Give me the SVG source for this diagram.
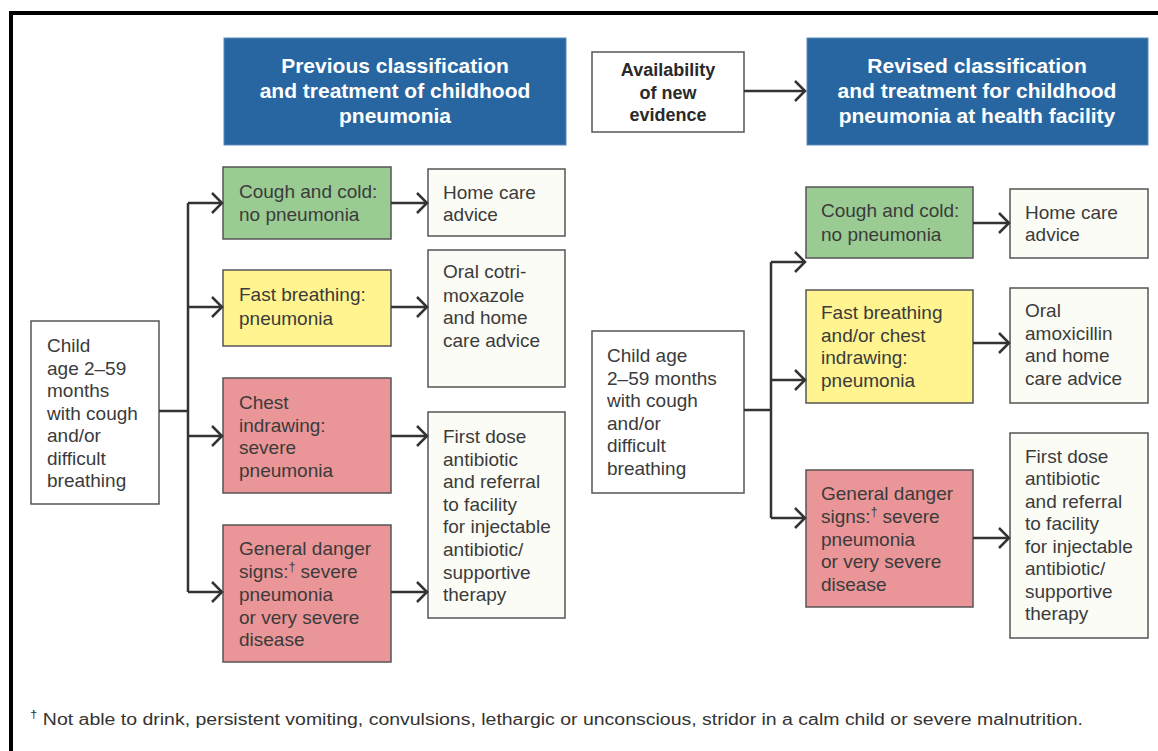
<svg xmlns="http://www.w3.org/2000/svg" width="1158" height="751" viewBox="0 0 1158 751">
<defs>
<style>
.t{font-family:"Liberation Sans",Arial,sans-serif;font-size:19px;fill:#3b3b3b}
.h{font-family:"Liberation Sans",Arial,sans-serif;font-size:21px;font-weight:bold;fill:#ffffff;text-anchor:middle}
.hb{font-family:"Liberation Sans",Arial,sans-serif;font-size:18px;font-weight:bold;fill:#2a2a2a;text-anchor:middle}
.blue{fill:#2866a1;stroke:#5a8bbd;stroke-width:1}
.wb{fill:#ffffff;stroke:#555;stroke-width:1.5}
.lb{fill:#fbfcf6;stroke:#555;stroke-width:1.5}
.gr{fill:#9acb93;stroke:#555;stroke-width:1.5}
.ye{fill:#fff490;stroke:#555;stroke-width:1.5}
.rd{fill:#ea9597;stroke:#555;stroke-width:1.5}
.c{fill:none;stroke:#333;stroke-width:2.5}
.fn{font-family:"Liberation Sans",Arial,sans-serif;font-size:16px;fill:#333}
</style>
<marker id="ah" markerUnits="userSpaceOnUse" markerWidth="14" markerHeight="24" refX="11" refY="12" orient="auto">
<path d="M1,2 L11,12 L1,22" fill="none" stroke="#333" stroke-width="2.5"/>
</marker>
</defs>
<rect width="1158" height="751" fill="#ffffff"/>
<path d="M11,760 L11,13 L1170,13" fill="none" stroke="#000" stroke-width="4"/>

<g id="hdr-prev">
<rect class="blue" x="224" y="38" width="342" height="107"/>
<text class="h" x="395" y="73">Previous classification</text>
<text class="h" x="395" y="98">and treatment of childhood</text>
<text class="h" x="395" y="123">pneumonia</text>
</g>
<g id="evidence">
<rect class="wb" x="592" y="52" width="152" height="80"/>
<text class="hb" x="668" y="76">Availability</text>
<text class="hb" x="668" y="99">of new</text>
<text class="hb" x="668" y="121">evidence</text>
</g>
<g id="hdr-rev">
<rect class="blue" x="807" y="38" width="341" height="107"/>
<text class="h" x="977" y="73">Revised classification</text>
<text class="h" x="977" y="98">and treatment for childhood</text>
<text class="h" x="977" y="123">pneumonia at health facility</text>
</g>

<g id="l-child">
<rect class="wb" x="31" y="321" width="128" height="183"/>
<text class="t" x="47" y="352">Child</text>
<text class="t" x="47" y="375">age 2–59</text>
<text class="t" x="47" y="397">months</text>
<text class="t" x="47" y="420">with cough</text>
<text class="t" x="47" y="442">and/or</text>
<text class="t" x="47" y="465">difficult</text>
<text class="t" x="47" y="487">breathing</text>
</g>
<g id="l-cough">
<rect class="gr" x="223" y="167" width="168" height="72"/>
<text class="t" x="239" y="198">Cough and cold:</text>
<text class="t" x="239" y="221">no pneumonia</text>
</g>
<g id="l-home">
<rect class="lb" x="428" y="169" width="137" height="67"/>
<text class="t" x="443" y="199">Home care</text>
<text class="t" x="443" y="221">advice</text>
</g>
<g id="l-fast">
<rect class="ye" x="223" y="270" width="168" height="76"/>
<text class="t" x="239" y="301">Fast breathing:</text>
<text class="t" x="239" y="325">pneumonia</text>
</g>
<g id="l-oral">
<rect class="lb" x="428" y="250" width="137" height="137"/>
<text class="t" x="443" y="278">Oral cotri-</text>
<text class="t" x="443" y="302">moxazole</text>
<text class="t" x="443" y="324">and home</text>
<text class="t" x="443" y="347">care advice</text>
</g>
<g id="l-chest">
<rect class="rd" x="223" y="378" width="168" height="115"/>
<text class="t" x="239" y="409">Chest</text>
<text class="t" x="239" y="432">indrawing:</text>
<text class="t" x="239" y="454">severe</text>
<text class="t" x="239" y="477">pneumonia</text>
</g>
<g id="l-danger">
<rect class="rd" x="223" y="525" width="168" height="137"/>
<text class="t" x="239" y="555">General danger</text>
<text class="t" x="239" y="578">signs:<tspan font-size="12" dy="-7">†</tspan><tspan dy="7"> severe</tspan></text>
<text class="t" x="239" y="601">pneumonia</text>
<text class="t" x="239" y="624">or very severe</text>
<text class="t" x="239" y="646">disease</text>
</g>
<g id="l-first">
<rect class="lb" x="428" y="412" width="137" height="206"/>
<text class="t" x="443" y="443">First dose</text>
<text class="t" x="443" y="466">antibiotic</text>
<text class="t" x="443" y="488">and referral</text>
<text class="t" x="443" y="511">to facility</text>
<text class="t" x="443" y="533">for injectable</text>
<text class="t" x="443" y="556">antibiotic/</text>
<text class="t" x="443" y="579">supportive</text>
<text class="t" x="443" y="601">therapy</text>
</g>

<g id="r-child">
<rect class="wb" x="592" y="331" width="152" height="162"/>
<text class="t" x="607" y="362">Child age</text>
<text class="t" x="607" y="385">2–59 months</text>
<text class="t" x="607" y="407">with cough</text>
<text class="t" x="607" y="430">and/or</text>
<text class="t" x="607" y="452">difficult</text>
<text class="t" x="607" y="475">breathing</text>
</g>
<g id="r-cough">
<rect class="gr" x="806" y="187" width="167" height="71"/>
<text class="t" x="821" y="217">Cough and cold:</text>
<text class="t" x="821" y="241">no pneumonia</text>
</g>
<g id="r-home">
<rect class="lb" x="1010" y="189" width="138" height="69"/>
<text class="t" x="1025" y="219">Home care</text>
<text class="t" x="1025" y="241">advice</text>
</g>
<g id="r-fast">
<rect class="ye" x="806" y="290" width="167" height="113"/>
<text class="t" x="821" y="319">Fast breathing</text>
<text class="t" x="821" y="342">and/or chest</text>
<text class="t" x="821" y="364">indrawing:</text>
<text class="t" x="821" y="387">pneumonia</text>
</g>
<g id="r-oral">
<rect class="lb" x="1010" y="288" width="138" height="115"/>
<text class="t" x="1025" y="317">Oral</text>
<text class="t" x="1025" y="340">amoxicillin</text>
<text class="t" x="1025" y="362">and home</text>
<text class="t" x="1025" y="385">care advice</text>
</g>
<g id="r-danger">
<rect class="rd" x="806" y="470" width="167" height="137"/>
<text class="t" x="821" y="500">General danger</text>
<text class="t" x="821" y="523">signs:<tspan font-size="12" dy="-7">†</tspan><tspan dy="7"> severe</tspan></text>
<text class="t" x="821" y="546">pneumonia</text>
<text class="t" x="821" y="568">or very severe</text>
<text class="t" x="821" y="591">disease</text>
</g>
<g id="r-first">
<rect class="lb" x="1010" y="433" width="138" height="205"/>
<text class="t" x="1025" y="463">First dose</text>
<text class="t" x="1025" y="485">antibiotic</text>
<text class="t" x="1025" y="508">and referral</text>
<text class="t" x="1025" y="530">to facility</text>
<text class="t" x="1025" y="553">for injectable</text>
<text class="t" x="1025" y="575">antibiotic/</text>
<text class="t" x="1025" y="598">supportive</text>
<text class="t" x="1025" y="620">therapy</text>
</g>

<g id="connectors">
<path class="c" d="M744,91 L805,91" marker-end="url(#ah)"/>
<path class="c" d="M159,411 L188,411"/>
<path class="c" d="M188,203 L188,592"/>
<path class="c" d="M188,203 L222,203" marker-end="url(#ah)"/>
<path class="c" d="M188,307 L222,307" marker-end="url(#ah)"/>
<path class="c" d="M188,436 L222,436" marker-end="url(#ah)"/>
<path class="c" d="M188,592 L222,592" marker-end="url(#ah)"/>
<path class="c" d="M391,203 L427,203" marker-end="url(#ah)"/>
<path class="c" d="M391,307 L427,307" marker-end="url(#ah)"/>
<path class="c" d="M391,436 L427,436" marker-end="url(#ah)"/>
<path class="c" d="M391,592 L427,592" marker-end="url(#ah)"/>
<path class="c" d="M744,410 L771,410"/>
<path class="c" d="M771,262 L771,518"/>
<path class="c" d="M771,262 L805,262" marker-end="url(#ah)"/>
<path class="c" d="M771,380 L805,380" marker-end="url(#ah)"/>
<path class="c" d="M771,518 L805,518" marker-end="url(#ah)"/>
<path class="c" d="M973,223 L1009,223" marker-end="url(#ah)"/>
<path class="c" d="M973,343 L1009,343" marker-end="url(#ah)"/>
<path class="c" d="M973,538 L1009,538" marker-end="url(#ah)"/>
</g>

<text class="fn" x="30" y="725" textLength="1053" lengthAdjust="spacingAndGlyphs"><tspan font-size="11" dy="-7">†</tspan><tspan dy="7"> Not able to drink, persistent vomiting, convulsions, lethargic or unconscious, stridor in a calm child or severe malnutrition.</tspan></text>
</svg>
